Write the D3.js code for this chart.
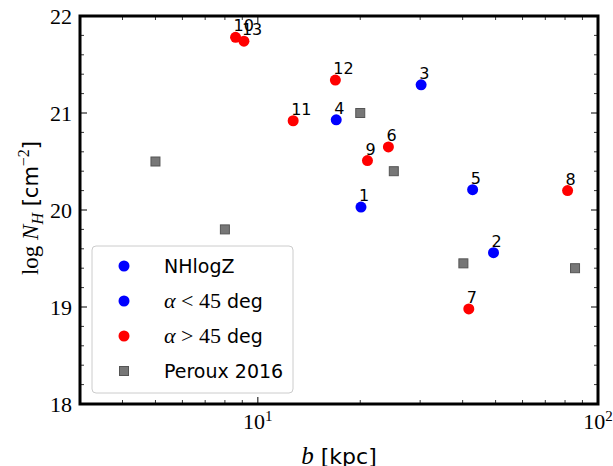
<!DOCTYPE html>
<html>
<head>
<meta charset="utf-8">
<script src="https://cdn.jsdelivr.net/npm/d3@7"></script>
<style>
  body { margin: 0; background: #fff; }
  svg { display: block; }
</style>
</head>
<body>
<div id="chart"></div>
<script>
'use strict';

// alpha > 45 deg (red)
let redIds = ['10', '13', '11', '12', '9', '6', '8', '7'];
let redB = [8.6, 9.1, 12.7, 16.9, 21.0, 24.2, 81.4, 41.7];
let redN = [21.78, 21.74, 20.92, 21.34, 20.51, 20.65, 20.20, 18.98];

// alpha < 45 deg (blue)
let blueIds = ['3', '4', '1', '5', '2'];
let blueB = [30.2, 17.0, 20.1, 42.8, 49.3];
let blueN = [21.29, 20.93, 20.03, 20.21, 19.56];

// Peroux 2016 (grey squares)
let perouxB = [5.0, 8.0, 20.0, 25.1, 40.2, 85.6];
let perouxN = [20.50, 19.80, 21.00, 20.40, 19.45, 19.40];

let yTicks = [18, 19, 20, 21, 22];
let xTicks = [10, 100];

let legendItems = [
    { label: 'NHlogZ', kind: 'circle', color: '#0000ff' },
    { label: 'alt', math: '<', kind: 'circle', color: '#0000ff' },
    { label: 'alt', math: '>', kind: 'circle', color: '#ff0000' },
    { label: 'Peroux 2016', kind: 'square', color: '#777777' }
];

let config = {
    width: 613,
    height: 466,
    margin: { top: 16, right: 15, bottom: 62, left: 80 }
};

let innerW = config.width - config.margin.left - config.margin.right;
let innerH = config.height - config.margin.top - config.margin.bottom;

let svg = d3.select('#chart')
    .append('svg')
    .attr('width', config.width)
    .attr('height', config.height);

let g = svg.append('g')
    .attr('transform', 'translate(' + config.margin.left + ',' + config.margin.top + ')');

let xScale = d3.scaleLog().domain([3, 100]).range([0, innerW]);
let yScale = d3.scaleLinear().domain([18, 22]).range([innerH, 0]);

// minor ticks
let xMinor = [];
[1, 10].forEach(dec => {
    for (let k = 2; k <= 9; k++) {
        let v = k * dec;
        if (v >= 3 && v < 100 && v !== 10) xMinor.push(v);
    }
});
let yMinor = d3.range(18, 22.001, 0.2).filter(v => Math.abs(v - Math.round(v)) > 0.01);

let ticks = g.append('g').attr('class', 'ticks').attr('stroke', '#000');

function tickLines(vals, len, width) {
    vals.forEach(v => {
        let x = xScale(v);
        ticks.append('line').attr('x1', x).attr('x2', x).attr('y1', innerH).attr('y2', innerH - len).attr('stroke-width', width);
        ticks.append('line').attr('x1', x).attr('x2', x).attr('y1', 0).attr('y2', len).attr('stroke-width', width);
    });
}
function tickLinesY(vals, len, width) {
    vals.forEach(v => {
        let y = yScale(v);
        ticks.append('line').attr('y1', y).attr('y2', y).attr('x1', 0).attr('x2', len).attr('stroke-width', width);
        ticks.append('line').attr('y1', y).attr('y2', y).attr('x1', innerW).attr('x2', innerW - len).attr('stroke-width', width);
    });
}
tickLines(xTicks, 7, 1);
tickLines(xMinor, 4, 0.8);
tickLinesY(yTicks, 7, 1);
tickLinesY(yMinor, 4, 0.8);

// y tick labels
g.append('g').selectAll('text')
    .data(yTicks)
    .enter()
    .append('text')
    .attr('x', -8)
    .attr('y', d => yScale(d))
    .attr('dy', '0.35em')
    .attr('text-anchor', 'end')
    .attr('font-family', 'Liberation Serif, serif')
    .attr('font-size', 22)
    .text(d => d);

// x tick labels (10^n)
let xl = g.append('g').selectAll('text')
    .data(xTicks)
    .enter()
    .append('text')
    .attr('x', d => xScale(d))
    .attr('y', innerH + 25)
    .attr('text-anchor', 'middle')
    .attr('font-family', 'Liberation Serif, serif')
    .attr('font-size', 22);
xl.append('tspan').text('10');
xl.append('tspan').attr('dy', -8).attr('font-size', 15).text(d => Math.round(Math.log10(d)));

// peroux squares
let sq = 9;
g.append('g').selectAll('rect')
    .data(perouxB.map((b, i) => ({ b: b, n: perouxN[i] })))
    .enter()
    .append('rect')
    .attr('x', d => xScale(d.b) - sq / 2)
    .attr('y', d => yScale(d.n) - sq / 2)
    .attr('width', sq)
    .attr('height', sq)
    .attr('fill', '#777777')
    .attr('stroke', '#555555')
    .attr('stroke-width', 1);

function drawSeries(ids, bs, ns, color) {
    let data = ids.map((id, i) => ({ id: id, b: bs[i], n: ns[i] }));
    let layer = g.append('g');
    layer.selectAll('circle')
        .data(data)
        .enter()
        .append('circle')
        .attr('cx', d => xScale(d.b))
        .attr('cy', d => yScale(d.n))
        .attr('r', 5.5)
        .attr('fill', color);
    layer.selectAll('text')
        .data(data)
        .enter()
        .append('text')
        .attr('x', d => xScale(d.b) - 2)
        .attr('y', d => yScale(d.n) - 6)
        .attr('font-family', 'DejaVu Sans, sans-serif')
        .attr('font-size', 16)
        .attr('fill', '#000')
        .text(d => d.id);
}
drawSeries(blueIds, blueB, blueN, '#0000ff');
drawSeries(redIds, redB, redN, '#ff0000');

// legend
let lg = svg.append('g').attr('transform', 'translate(92,246)');
lg.append('rect')
    .attr('width', 201)
    .attr('height', 147)
    .attr('rx', 4)
    .attr('fill', '#fff')
    .attr('fill-opacity', 0.8)
    .attr('stroke', '#cccccc')
    .attr('stroke-width', 1);
legendItems.forEach((item, i) => {
    let y = 20 + i * 35;
    if (item.kind === 'circle') {
        lg.append('circle').attr('cx', 32).attr('cy', y).attr('r', 5.5).attr('fill', item.color);
    } else {
        lg.append('rect').attr('x', 32 - 4.5).attr('y', y - 4.5).attr('width', 9).attr('height', 9)
            .attr('fill', item.color).attr('stroke', '#555555');
    }
    let t = lg.append('text')
        .attr('x', 72)
        .attr('y', y)
        .attr('dy', '0.35em')
        .attr('font-family', 'DejaVu Sans, sans-serif')
        .attr('font-size', 19);
    if (item.math) {
        t.append('tspan').attr('font-family', 'Liberation Serif, serif').attr('font-style', 'italic').attr('font-size', 22).text('\u03b1');
        t.append('tspan').attr('font-family', 'Liberation Serif, serif').attr('font-size', 22).text(' ' + item.math + ' 45');
        t.append('tspan').text(' deg');
    } else {
        t.text(item.label);
    }
});

// frame
g.append('rect')
    .attr('width', innerW)
    .attr('height', innerH)
    .attr('fill', 'none')
    .attr('stroke', '#000')
    .attr('stroke-width', 3);

// axis labels
let xLab = svg.append('text')
    .attr('x', config.margin.left + innerW / 2)
    .attr('y', 464)
    .attr('text-anchor', 'middle')
    .attr('font-size', 25);
xLab.append('tspan').attr('font-family', 'Liberation Serif, serif').attr('font-style', 'italic').text('b');
xLab.append('tspan').attr('font-family', 'DejaVu Sans, sans-serif').attr('font-size', 22).text(' [kpc]');

let yLab = svg.append('text')
    .attr('transform', 'translate(38,' + (config.margin.top + innerH / 2 - 2) + ') rotate(-90)')
    .attr('text-anchor', 'middle')
    .attr('font-size', 23);
yLab.append('tspan').attr('font-family', 'Liberation Serif, serif').text('log ');
yLab.append('tspan').attr('font-family', 'Liberation Serif, serif').attr('font-style', 'italic').text('N');
yLab.append('tspan').attr('font-family', 'Liberation Serif, serif').attr('font-style', 'italic').attr('font-size', 16).attr('dy', 5).text('H');
yLab.append('tspan').attr('font-family', 'DejaVu Sans, sans-serif').attr('font-size', 21).attr('dy', -5).text(' [cm');
yLab.append('tspan').attr('font-family', 'Liberation Serif, serif').attr('font-size', 16).attr('dy', -9).text('\u22122');
yLab.append('tspan').attr('font-family', 'DejaVu Sans, sans-serif').attr('font-size', 21).attr('dy', 9).text(']');
</script>
</body>
</html>
